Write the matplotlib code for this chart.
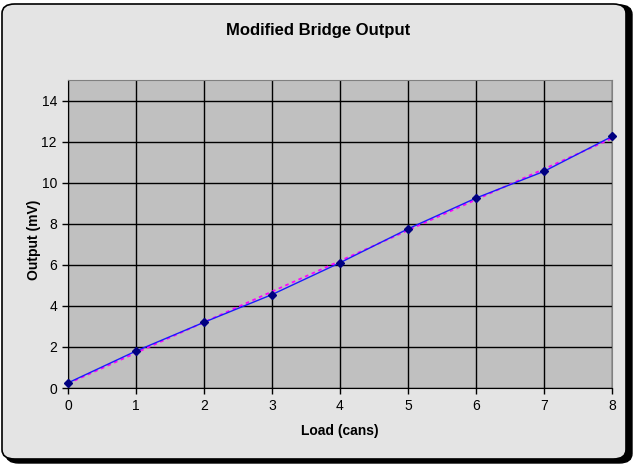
import numpy as np
import matplotlib
matplotlib.use("Agg")
import matplotlib.pyplot as plt
from matplotlib.patches import FancyBboxPatch

load = [0, 1, 2, 3, 4, 5, 6, 7, 8]
output_mv = [0.25, 1.8, 3.2, 4.55, 6.1, 7.75, 9.25, 10.55, 12.25]
title = "Modified Bridge Output"
xlabel = "Load (cans)"
ylabel = "Output (mV)"

plt.rcParams['font.family'] = ['Liberation Sans', 'DejaVu Sans']

fig = plt.figure(figsize=(6.36, 4.70), dpi=100)
fig.patch.set_facecolor('white')

# shadow and chart area
W, H = 636, 470
shadow = FancyBboxPatch((6 / W, 7 / H), 626 / W, 458 / H,
                        boxstyle="round,pad=0,rounding_size=0.02",
                        transform=fig.transFigure, facecolor='black',
                        edgecolor='black', zorder=-3)
fig.patches.append(shadow)
area = FancyBboxPatch((2 / W, 11 / H), 624 / W, 455 / H,
                      boxstyle="round,pad=0,rounding_size=0.02",
                      transform=fig.transFigure, facecolor='#e4e4e4',
                      edgecolor='black', linewidth=1.2, zorder=-2)
fig.patches.append(area)

ax = fig.add_axes([68 / W, 1 - 388 / H, 544 / W, 308 / H])
ax.set_facecolor('#c0c0c0')
ax.set_xlim(0, 8)
ax.set_ylim(0, 15)
ax.set_xticks(range(0, 9))
ax.set_yticks(range(0, 15, 2))
ax.grid(True, color='black', linewidth=1.0)
ax.set_axisbelow(True)
for s in ['top', 'right']:
    ax.spines[s].set_color('#808080')
for s in ['left', 'bottom']:
    ax.spines[s].set_color('black')
ax.tick_params(direction='out', length=4, width=1, labelsize=10, colors='black', pad=4)

# linear trendline
coef = np.polyfit(load, output_mv, 1)
xs = np.array([min(load), max(load)])
ax.plot(xs, np.polyval(coef, xs), color='#ff00ff', linestyle=(0, (2, 2)), linewidth=1.3, zorder=3)

ax.plot(load, output_mv, color='#1a1aff', linewidth=1.0, marker='D', markersize=4.5,
        markerfacecolor='#000080', markeredgecolor='#000080', zorder=4, clip_on=False)

fig.text(318 / W, 1 - 30 / H, title, ha='center', va='center', fontsize=12, fontweight='bold')
ax.set_xlabel(xlabel, fontsize=10, fontweight='bold', labelpad=8)
ax.set_ylabel(ylabel, fontsize=10, fontweight='bold', labelpad=0)
ax.yaxis.label.set_position((0, 0.48))

fig.savefig("out.png", dpi=100)
